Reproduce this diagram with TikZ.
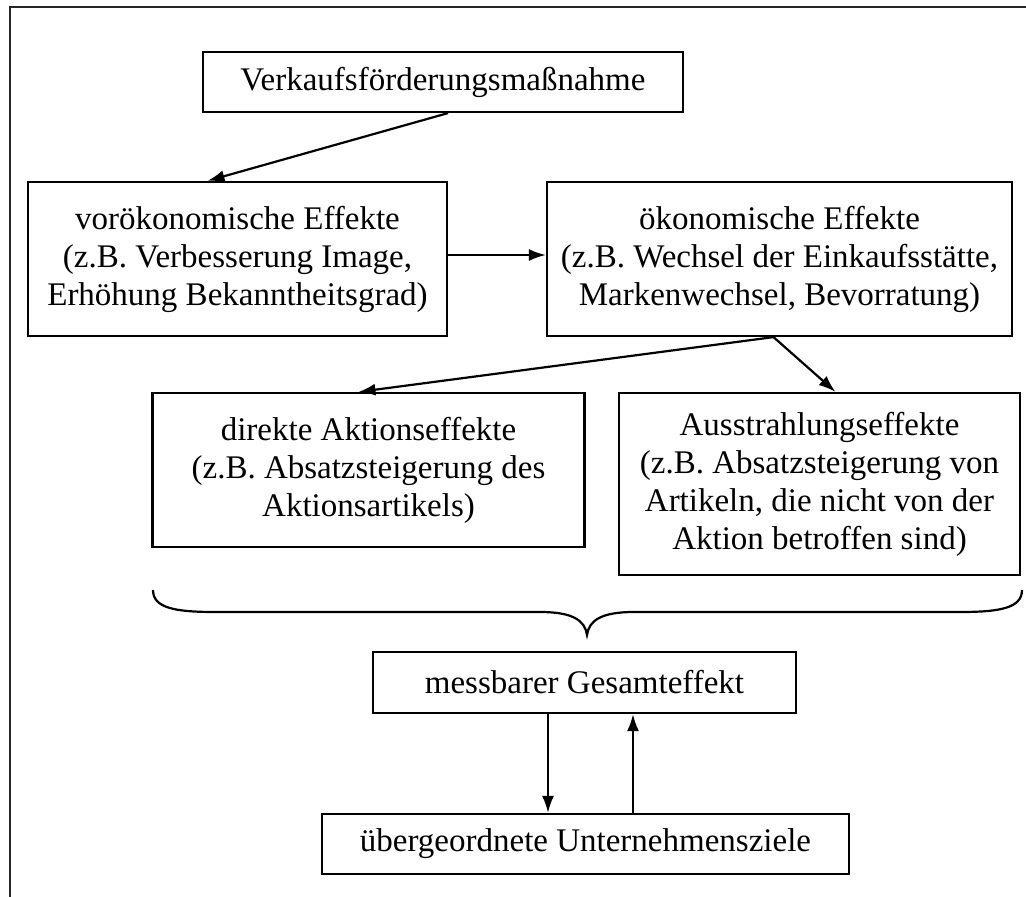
\documentclass[tikz,border=0pt]{standalone}
\usepackage{fontspec}
\setmainfont{Liberation Serif}
\usetikzlibrary{arrows.meta,calc}
\begin{document}
\begin{tikzpicture}[x=1pt,y=-1pt,
  box/.style={draw,line width=2.2pt,inner sep=0pt,align=center,
    font=\fontsize{33}{38}\selectfont},
  conn/.style={line width=2.2pt,-{Latex[length=17pt,width=12pt]}}]
\useasboundingbox (0,0) rectangle (1026,897);
% frame
\draw[line width=2pt,black!85] (10,897) -- (10,7) -- (1026,7);
% nodes
\node[box,minimum width=480pt,minimum height=60pt] (top) at (443,82) {Verkaufsförderungsmaßnahme};
\node[box,minimum width=419pt,minimum height=154pt] (vor) at (237.5,259) {vorökonomische Effekte\\(z.B. Verbesserung Image,\\Erhöhung Bekanntheitsgrad)};
\node[box,minimum width=465pt,minimum height=154pt] (ok) at (779.5,259) {ökonomische Effekte\\(z.B. Wechsel der Einkaufsstätte,\\Markenwechsel, Bevorratung)};
\node[box,minimum width=432pt,minimum height=154pt] (dir) at (368.5,470) {direkte Aktionseffekte\\(z.B. Absatzsteigerung des\\Aktionsartikels)};
\node[box,minimum width=401pt,minimum height=182pt] (aus) at (819.5,484) {Ausstrahlungseffekte\\(z.B. Absatzsteigerung von\\Artikeln, die nicht von der\\Aktion betroffen sind)};
\node[box,minimum width=423pt,minimum height=61pt] (ges) at (584.5,682.5) {messbarer Gesamteffekt};
\node[box,minimum width=527pt,minimum height=60pt] (unt) at (585.5,844) {übergeordnete Unternehmensziele};
% connectors
\draw[conn] ($(top.south)+(5,0)$) -- ($(vor.north)+(-30,0)$);
\draw[conn] ($(vor.east)+(0,-4)$) -- ($(ok.west)+(0,-4)$);
\draw[conn] ($(ok.south)+(-6,0)$) -- ($(dir.north)+(-10,0)$);
\draw[conn] ($(ok.south)+(-6,0)$) -- ($(aus.north)+(16,0)$);
\draw[conn] ($(ges.south)+(-36.5,0)$) -- ($(unt.north)+(-37.5,0)$);
\draw[conn] ($(unt.north)+(47.5,0)$) -- ($(ges.south)+(48.5,0)$);
% brace
\draw[line width=2.2pt] (153,590) .. controls (153,608) and (175,612) .. (215,612) -- (540,612)
  .. controls (572,612) and (585,620) .. (587,635)
  .. controls (589,620) and (602,612) .. (634,612) -- (960,612)
  .. controls (1000,612) and (1022,608) .. (1022,590);
\end{tikzpicture}
\end{document}
